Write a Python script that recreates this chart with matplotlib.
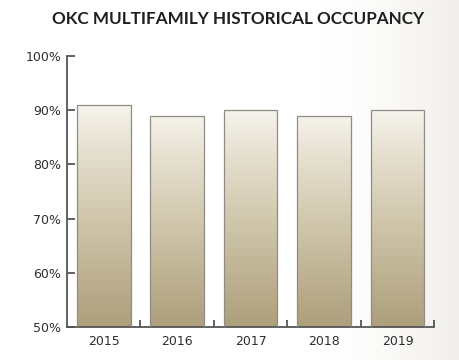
import numpy as np
import matplotlib
matplotlib.use("Agg")
import matplotlib.pyplot as plt
from matplotlib.colors import LinearSegmentedColormap
from matplotlib.patches import Rectangle

years = ["2015", "2016", "2017", "2018", "2019"]
occupancy = [91, 89, 90, 89, 90]
y_ticks = [50, 60, 70, 80, 90, 100]
y_labels = ["50%", "60%", "70%", "80%", "90%", "100%"]

fig = plt.figure(figsize=(4.59, 3.6), dpi=100)
fig.patch.set_facecolor("white")

# faint warm haze toward the right edge of the canvas
bg = fig.add_axes([0, 0, 1, 1], zorder=-5)
gx = np.linspace(0, 1, 300)
haze = np.clip((gx - 0.7) / 0.3, 0, 1) ** 1.5
bg_cmap = LinearSegmentedColormap.from_list("bg", ["#ffffff", "#f1efea"])
bg.imshow(np.tile(haze, (10, 1)), cmap=bg_cmap, aspect="auto", extent=[0, 1, 0, 1], vmin=0, vmax=1)
bg.set_axis_off()

ax = fig.add_axes([0.146, 0.092, 0.800, 0.752])
ax.set_facecolor("none")

bar_cmap = LinearSegmentedColormap.from_list(
    "tan", [(0.0, "#ad9f7c"), (0.45, "#cdc3a7"), (0.8, "#e6e0d0"), (1.0, "#f6f3ec")])
grad = np.linspace(0, 1, 256).reshape(-1, 1)

x = np.arange(len(years))
bars = ax.bar(x, occupancy, width=0.73, bottom=0, facecolor="none",
              edgecolor="#8f8c85", linewidth=0.9, zorder=3)
for b, v in zip(bars, occupancy):
    x0 = b.get_x()
    w = b.get_width()
    im = ax.imshow(grad, cmap=bar_cmap, aspect="auto", origin="lower",
                   extent=[x0, x0 + w, 50, v], zorder=2, vmin=0, vmax=1)
    clip = Rectangle((x0, 50), w, v - 50, transform=ax.transData)
    im.set_clip_path(clip)

ax.set_xlim(-0.5, len(years) - 0.5)
ax.set_ylim(50, 100)

for s in ["top", "right"]:
    ax.spines[s].set_visible(False)
for s in ["left", "bottom"]:
    ax.spines[s].set_color("#555555")
    ax.spines[s].set_linewidth(1.3)

ax.set_yticks(y_ticks)
ax.set_yticklabels(y_labels)
ax.tick_params(axis="y", direction="in", length=6, width=1.3, color="#555555",
               labelsize=9, labelcolor="#2e2e2e", pad=4)

ax.set_xticks(x)
ax.set_xticklabels(years)
ax.tick_params(axis="x", which="major", length=0, labelsize=9, labelcolor="#2e2e2e", pad=6)
ax.set_xticks(np.arange(0.5, len(years)), minor=True)
ax.tick_params(axis="x", which="minor", direction="in", length=5, width=1.3, color="#555555")

fig.text(0.519, 0.947, "OKC MULTIFAMILY HISTORICAL OCCUPANCY", ha="center", va="center",
         fontsize=12.3, fontweight="bold", color="#1f1f1f", family="Lato")

fig.savefig("out.png", dpi=100)
